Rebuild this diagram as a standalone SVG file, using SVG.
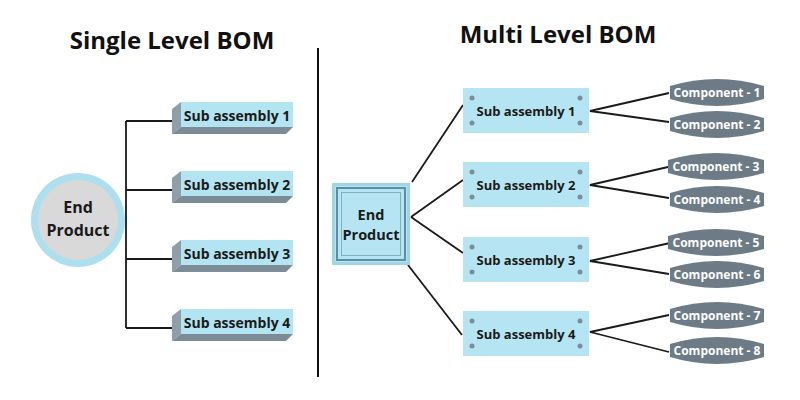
<svg xmlns="http://www.w3.org/2000/svg" width="800" height="400" viewBox="0 0 800 400">
<defs>
<style>
text{font-family:"Open Sans","Liberation Sans",sans-serif;font-weight:700;text-anchor:middle}
.title{font-size:24px;fill:#111}
.lbl{font-size:14px;fill:#1a1a1a}
.lbl2{font-size:13px;fill:#1a1a1a}
.comp{font-size:12px;fill:#fff}
.front{fill:#b3e4f1}
.side{fill:#8e9fa9}
.bottom{fill:#7c8c96}
.box{fill:#b5e5f2}
.dot{fill:#7f8c95}
.cshape{fill:#6d7b87}
.conn{stroke:#1a1a1a;stroke-width:1.8;fill:none}
</style>
</defs>
<rect width="800" height="400" fill="#fff"/>
<text class="title" x="172" y="49">Single Level BOM</text>
<text class="title" x="558" y="43">Multi Level BOM</text>
<line x1="318" y1="48" x2="318" y2="377" stroke="#111" stroke-width="2"/>

<g id="connectors">
<path class="conn" d="M126,121 V328 M126,121 H175 M126,190 H175 M126,259 H175 M126,328 H175"/>
<path class="conn" d="M412,182 L463,105 M411,217 L463,180 M411,217 L463,253 M408,265 L462,335"/>
<path class="conn" d="M669,93 L590,111 L669,122 M668,167 L590,185 L669,198 M670,243 L590,261 L669,274 M669,315 L590,332 L669,352"/>
</g>

<g id="end-product-single">
<circle cx="78" cy="220" r="47" fill="#ade0ee"/>
<circle cx="78" cy="220" r="40" fill="#d9d9d9"/>
<text class="lbl" x="78" y="213" style="font-size:16px">End</text>
<text class="lbl" x="78" y="236" style="font-size:16px">Product</text>
</g>

<g id="single-sub1">
<polygon class="side" points="181,102 172,109 172,134 181,127"/>
<polygon class="bottom" points="181,127 293,127 286,134 172,134"/>
<rect class="front" x="181" y="102" width="112" height="25"/>
<text class="lbl" x="237" y="121">Sub assembly 1</text>
</g>
<g id="single-sub2">
<polygon class="side" points="181,171 172,178 172,203 181,196"/>
<polygon class="bottom" points="181,196 293,196 286,203 172,203"/>
<rect class="front" x="181" y="171" width="112" height="25"/>
<text class="lbl" x="237" y="190">Sub assembly 2</text>
</g>
<g id="single-sub3">
<polygon class="side" points="181,240 172,247 172,272 181,265"/>
<polygon class="bottom" points="181,265 293,265 286,272 172,272"/>
<rect class="front" x="181" y="240" width="112" height="25"/>
<text class="lbl" x="237" y="259">Sub assembly 3</text>
</g>
<g id="single-sub4">
<polygon class="side" points="181,309 172,316 172,341 181,334"/>
<polygon class="bottom" points="181,334 293,334 286,341 172,341"/>
<rect class="front" x="181" y="309" width="112" height="25"/>
<text class="lbl" x="237" y="328">Sub assembly 4</text>
</g>

<g id="end-product-multi">
<rect x="333.5" y="184.5" width="75" height="79" fill="#b5e5f2" stroke="#9fd6e6" stroke-width="3"/>
<rect x="337" y="188" width="68" height="72" fill="none" stroke="#5f8ea3" stroke-width="2"/>
<rect x="341.5" y="192.5" width="59" height="63" fill="none" stroke="#86aebf" stroke-width="1"/>
<text class="lbl" x="371" y="220" style="font-size:14.5px">End</text>
<text class="lbl" x="371" y="240" style="font-size:14.5px">Product</text>
</g>

<g id="multi-sub1">
<rect class="box" x="463" y="88" width="126" height="45"/>
<circle class="dot" cx="472" cy="98" r="2.5"/><circle class="dot" cx="580" cy="98" r="2.5"/>
<circle class="dot" cx="472" cy="123" r="2.5"/><circle class="dot" cx="580" cy="123" r="2.5"/>
<text class="lbl2" x="526" y="116">Sub assembly 1</text>
</g>
<g id="multi-sub2">
<rect class="box" x="463" y="162" width="126" height="45"/>
<circle class="dot" cx="472" cy="172" r="2.5"/><circle class="dot" cx="580" cy="172" r="2.5"/>
<circle class="dot" cx="472" cy="197" r="2.5"/><circle class="dot" cx="580" cy="197" r="2.5"/>
<text class="lbl2" x="526" y="190">Sub assembly 2</text>
</g>
<g id="multi-sub3">
<rect class="box" x="463" y="237" width="126" height="45"/>
<circle class="dot" cx="472" cy="247" r="2.5"/><circle class="dot" cx="580" cy="247" r="2.5"/>
<circle class="dot" cx="472" cy="272" r="2.5"/><circle class="dot" cx="580" cy="272" r="2.5"/>
<text class="lbl2" x="526" y="265">Sub assembly 3</text>
</g>
<g id="multi-sub4">
<rect class="box" x="463" y="311" width="126" height="45"/>
<circle class="dot" cx="472" cy="321" r="2.5"/><circle class="dot" cx="580" cy="321" r="2.5"/>
<circle class="dot" cx="472" cy="346" r="2.5"/><circle class="dot" cx="580" cy="346" r="2.5"/>
<text class="lbl2" x="526" y="339">Sub assembly 4</text>
</g>

<g id="comp1"><path class="cshape" d="M670,86 Q717,72 764,86 L764,99 Q717,113 670,99 Z"/><text class="comp" x="717" y="97">Component - 1</text></g>
<g id="comp2"><path class="cshape" d="M670,118 Q717,104 764,118 L764,131 Q717,145 670,131 Z"/><text class="comp" x="717" y="129">Component - 2</text></g>
<g id="comp3"><path class="cshape" d="M668,160 Q716,146 764,160 L764,173 Q716,187 668,173 Z"/><text class="comp" x="716" y="171">Component - 3</text></g>
<g id="comp4"><path class="cshape" d="M670,193 Q717,179 764,193 L764,206 Q717,220 670,206 Z"/><text class="comp" x="717" y="204">Component - 4</text></g>
<g id="comp5"><path class="cshape" d="M668,236 Q716,222 764,236 L764,249 Q716,263 668,249 Z"/><text class="comp" x="716" y="247">Component - 5</text></g>
<g id="comp6"><path class="cshape" d="M670,268 Q717,254 764,268 L764,281 Q717,295 670,281 Z"/><text class="comp" x="717" y="279">Component - 6</text></g>
<g id="comp7"><path class="cshape" d="M670,309 Q717,295 764,309 L764,322 Q717,336 670,322 Z"/><text class="comp" x="717" y="320">Component - 7</text></g>
<g id="comp8"><path class="cshape" d="M670,344 Q717,330 764,344 L764,357 Q717,371 670,357 Z"/><text class="comp" x="717" y="355">Component - 8</text></g>
</svg>
